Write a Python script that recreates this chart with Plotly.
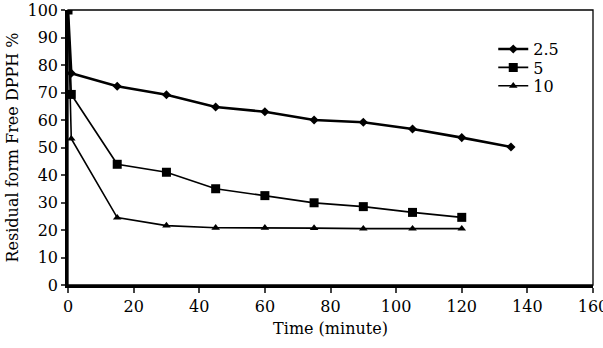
import plotly.graph_objects as go

time_a = [0, 1, 15, 30, 45, 60, 75, 90, 105, 120, 135]
conc_25 = [100, 77, 72.3, 69.2, 64.7, 63, 60, 59.2, 56.7, 53.6, 50.2]
time_b = [0, 1, 15, 30, 45, 60, 75, 90, 105, 120]
conc_5 = [100, 69.3, 43.9, 41, 35, 32.5, 29.9, 28.5, 26.4, 24.6]
conc_10 = [100, 53.2, 24.5, 21.6, 20.8, 20.8, 20.7, 20.5, 20.5, 20.5]

names = ["2.5", "5", "10"]
x_ticks = [0, 20, 40, 60, 80, 100, 120, 140, 160]
y_ticks = [0, 10, 20, 30, 40, 50, 60, 70, 80, 90, 100]

font = "DejaVu Serif"
fs = 16

fig = go.Figure()
fig.add_trace(go.Scatter(x=time_a, y=conc_25, name=names[0], mode="lines+markers",
                         legend="legend",
                         line=dict(color="black", width=2.6),
                         marker=dict(symbol="diamond", size=7, color="black")))
fig.add_trace(go.Scatter(x=time_b, y=conc_5, name=names[1], mode="lines+markers",
                         legend="legend2",
                         line=dict(color="black", width=1.7),
                         marker=dict(symbol="square", size=9, color="black")))
fig.add_trace(go.Scatter(x=time_b, y=conc_10, name=names[2], mode="lines+markers",
                         legend="legend3",
                         line=dict(color="black", width=1.6),
                         marker=dict(symbol="triangle-up", size=7.5, color="black")))

leg = dict(x=0.81, xanchor="left", yanchor="middle", bgcolor="rgba(0,0,0,0)",
           font=dict(family=font, size=fs, color="black"), itemwidth=30,
           borderwidth=0)

fig.update_layout(
    width=603, height=348,
    margin=dict(l=68, r=10, t=10, b=63, autoexpand=False),
    paper_bgcolor="white", plot_bgcolor="white",
    font=dict(family=font, size=fs, color="black"),
    showlegend=True,
    legend=dict(leg, y=0.858),
    legend2=dict(leg, y=0.791),
    legend3=dict(leg, y=0.724),
    shapes=[dict(type="rect", xref="paper", yref="paper", x0=0, y0=0, x1=1, y1=1,
                 line=dict(color="black", width=1.3), layer="above")],
)
fig.update_xaxes(range=[0, 160], tickvals=x_ticks, ticks="outside", ticklen=5,
                 tickwidth=2, showgrid=False, zeroline=False, showline=True,
                 linecolor="black", linewidth=2.5, automargin=False,
                 ticklabeloverflow="allow",
                 title=dict(text="Time (minute)", font=dict(size=fs), standoff=8))
fig.update_yaxes(range=[0, 100], tickvals=y_ticks, ticks="outside", ticklen=4,
                 tickwidth=2, showgrid=False, zeroline=False, showline=True,
                 linecolor="black", linewidth=2.5, automargin=False,
                 ticklabeloverflow="allow",
                 title=dict(text="Residual form Free DPPH %", font=dict(size=fs), standoff=5))

post = ("document.body.style.margin='0';document.body.style.padding='0';"
        "document.body.style.overflow='hidden';"
        "var d=document.getElementById('{plot_id}');"
        "d.style.position='fixed';d.style.left='0px';d.style.top='0px';")

fig.write_html("out.html", post_script=post, config={"displayModeBar": False})
